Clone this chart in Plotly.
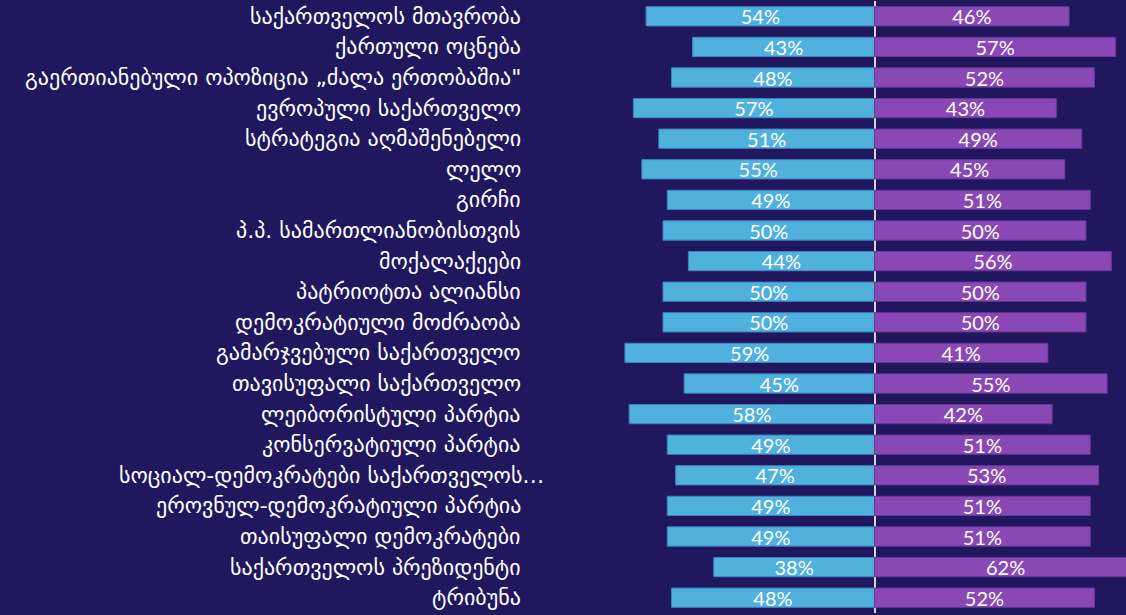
import plotly.graph_objects as go

categories = [
    "საქართველოს მთავრობა",
    "ქართული ოცნება",
    "გაერთიანებული ოპოზიცია „ძალა ერთობაშია\"",
    "ევროპული საქართველო",
    "სტრატეგია აღმაშენებელი",
    "ლელო",
    "გირჩი",
    "პ.პ. სამართლიანობისთვის",
    "მოქალაქეები",
    "პატრიოტთა ალიანსი",
    "დემოკრატიული მოძრაობა",
    "გამარჯვებული საქართველო",
    "თავისუფალი საქართველო",
    "ლეიბორისტული პარტია",
    "კონსერვატიული პარტია",
    "სოციალ-დემოკრატები საქართველოს…",
    "ეროვნულ-დემოკრატიული პარტია",
    "თაისუფალი დემოკრატები",
    "საქართველოს პრეზიდენტი",
    "ტრიბუნა",
]
left_values = [54, 43, 48, 57, 51, 55, 49, 50, 44, 50, 50, 59, 45, 58, 49, 47, 49, 49, 38, 48]
right_values = [46, 57, 52, 43, 49, 45, 51, 50, 56, 50, 50, 41, 55, 42, 51, 53, 51, 51, 62, 52]

BG = "#21175e"
CYAN = "#4fb1dc"
PURPLE = "#8a48b4"

fig = go.Figure()
fig.add_trace(go.Bar(
    y=categories, x=[-v for v in left_values], orientation="h",
    marker=dict(color=CYAN, line=dict(color="#3c84bf", width=1)),
    text=[f"{v}%" for v in left_values], textposition="inside",
    insidetextanchor="middle",
    textfont=dict(family="Lato", size=20, color="white"),
    hoverinfo="skip",
))
fig.add_trace(go.Bar(
    y=categories, x=right_values, orientation="h",
    marker=dict(color=PURPLE, line=dict(color="#66389a", width=1)),
    text=[f"{v}%" for v in right_values], textposition="inside",
    insidetextanchor="middle",
    textfont=dict(family="Lato", size=20, color="white"),
    hoverinfo="skip",
))

for i, c in enumerate(categories):
    fig.add_annotation(
        xref="paper", yref="y", x=523 / 1126, y=c, text=c,
        xanchor="right", yanchor="middle", showarrow=False,
        xshift=23 if c.endswith("…") else 0,
        font=dict(family="DejaVu Sans", size=22, color="white"),
    )

fig.update_layout(
    width=1126, height=615,
    margin=dict(l=0, r=0, t=1, b=2),
    paper_bgcolor=BG, plot_bgcolor=BG,
    barmode="relative", bargap=0.37,
    showlegend=False,
    uniformtext=dict(minsize=16, mode="show"),
)
fig.update_xaxes(
    range=[-874.5 / 4.23, (1126 - 874.5) / 4.23],
    showgrid=False, showticklabels=False, ticks="",
    zeroline=True, zerolinecolor="#d4d4dc", zerolinewidth=2,
    fixedrange=True,
)
fig.update_yaxes(
    autorange="reversed", showgrid=False, showticklabels=False, ticks="",
    fixedrange=True,
)

fig.write_html(
    "out.html",
    config={"displayModeBar": False},
    post_script="document.body.style.margin='0';document.body.style.overflow='hidden';document.body.style.background='#21175e';",
)
